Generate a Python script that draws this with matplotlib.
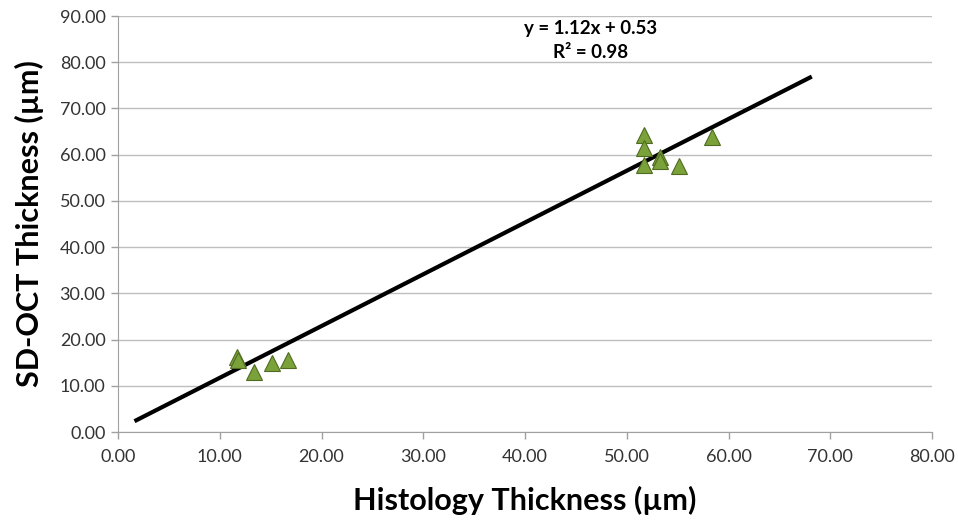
import matplotlib.pyplot as plt
import numpy as np

# datos
histologia = [11.7, 11.8, 13.4, 15.1, 16.7, 51.7, 51.7, 51.7, 53.3, 53.3, 55.1, 58.4]
sdoct = [16.3, 15.6, 13.0, 15.0, 15.5, 64.3, 61.4, 57.8, 59.6, 58.6, 57.6, 63.8]

# linea de tendencia
pendiente = 1.12
intercepto = 0.53
x_linea = np.array([1.8, 68.0])

plt.rcParams['font.family'] = ['Lato', 'DejaVu Sans']

fig = plt.figure(figsize=(9.58, 5.2), dpi=100)
ax = fig.add_axes([0.1232, 0.1692, 0.8497, 0.8])

ax.plot(x_linea, pendiente * x_linea + intercepto, color='black', linewidth=3, zorder=2)
ax.plot(histologia, sdoct, linestyle='none', marker='^', markersize=11,
        markerfacecolor='#7BA23A', markeredgecolor='#4F6B22', markeredgewidth=0.8, zorder=3)

ax.set_xlim(0, 80)
ax.set_ylim(0, 90)
ax.set_xticks(np.arange(0, 81, 10))
ax.set_yticks(np.arange(0, 91, 10))
ax.xaxis.set_major_formatter(lambda v, p: f"{v:.2f}")
ax.yaxis.set_major_formatter(lambda v, p: f"{v:.2f}")
ax.tick_params(labelsize=13, labelcolor='#333333', length=5, width=1, color='#A0A0A0')
ax.tick_params(axis='x', pad=7)
ax.tick_params(axis='y', pad=4)

ax.grid(axis='y', color='#BEBEBE', linewidth=1)
ax.set_axisbelow(True)
for s in ['top', 'right']:
    ax.spines[s].set_visible(False)
ax.spines['left'].set_color('#A0A0A0')
ax.spines['bottom'].set_color('#A0A0A0')

ax.set_xlabel('Histology Thickness (µm)', fontsize=22, fontweight='bold', labelpad=15)
ax.set_ylabel('SD-OCT Thickness (µm)', fontsize=22, fontweight='bold', labelpad=11)

ax.text(0.58, 0.94, f"y = {pendiente:.2f}x + {intercepto:.2f}\nR² = 0.98", transform=ax.transAxes,
        ha='center', va='center', fontsize=13.5, fontweight='bold', linespacing=1.5)

fig.savefig('out.png', dpi=100)
